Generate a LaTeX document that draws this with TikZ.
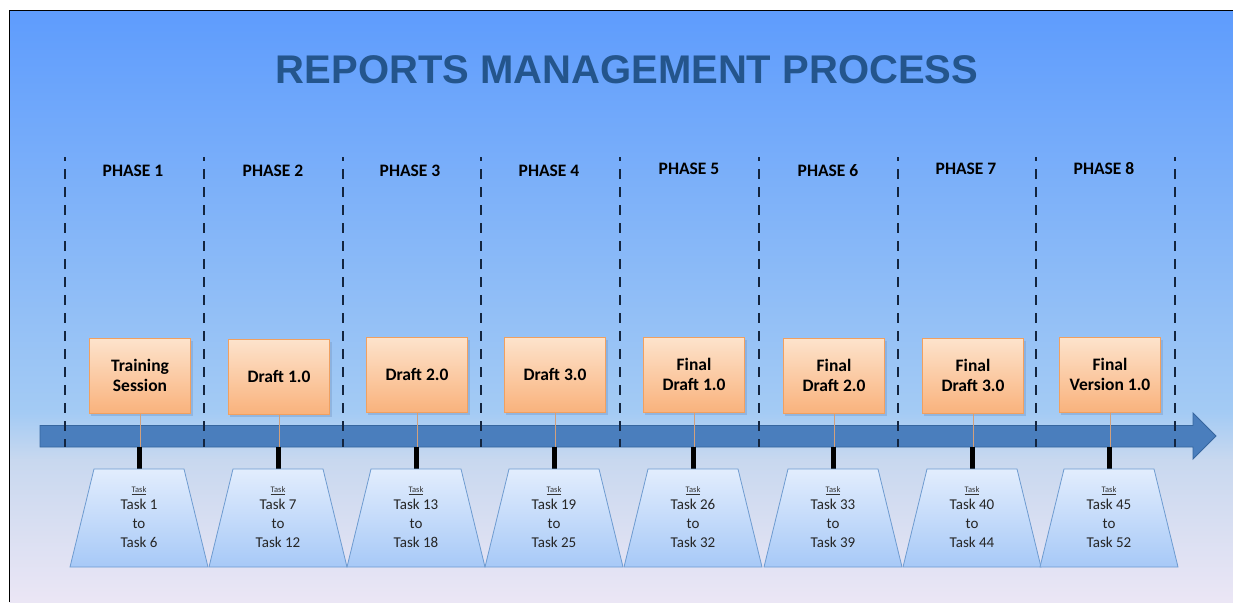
\documentclass[tikz,border=0pt]{standalone}
\usepackage{fontspec}
\setmainfont{Carlito}
\newfontfamily\titlefont{Liberation Sans}
\usetikzlibrary{calc}
\definecolor{bgtop}{HTML}{5E9CFD}
\definecolor{bgmid}{HTML}{A4CBF4}
\definecolor{bglow}{HTML}{C8D8EF}
\definecolor{bgbot}{HTML}{EBE6F5}
\definecolor{titleblue}{HTML}{24558C}
\definecolor{arrowfill}{HTML}{4A7EBD}
\definecolor{arrowdraw}{HTML}{36669F}
\definecolor{boxtop}{HTML}{FDE3CC}
\definecolor{boxbot}{HTML}{F9B27C}
\definecolor{boxdraw}{HTML}{F0A060}
\definecolor{traptop}{HTML}{E2EDFD}
\definecolor{trapbot}{HTML}{A7C9F7}
\definecolor{trapdraw}{HTML}{6E9BD0}
\definecolor{dashcol}{HTML}{13253F}
\definecolor{tan}{HTML}{D2A07C}
\definecolor{shadowcol}{HTML}{7A9CC8}
\tikzset{
  phasesep/.style={draw=dashcol, line width=2.8pt, dash pattern=on 10pt off 8pt, dash phase=6pt},
  phaselbl/.style={font=\fontsize{17.5}{20}\selectfont\bfseries, text=black},
  milestone/.style={draw=boxdraw, line width=0.8pt, top color=boxtop, bottom color=boxbot,
     minimum width=101pt, minimum height=75pt, inner sep=0pt, align=center,
     font=\fontsize{17.5}{20}\selectfont\bfseries},
  trap/.style={draw=trapdraw, line width=0.8pt, top color=traptop, bottom color=trapbot},
  tasktxt/.style={align=center, font=\fontsize{15}{19}\selectfont, text=black!85},
  stem/.style={draw=tan, line width=0.8pt},
  stub/.style={draw=black, line width=5pt},
}
\begin{document}
\begin{tikzpicture}[x=1pt,y=-1pt]
\useasboundingbox (0,0) rectangle (1233,602);
\fill[white] (0,0) rectangle (1233,602);
% background
\shade[top color=bgtop, bottom color=bgmid] (9.5,10.5) rectangle (1233,414);
\shade[top color=bgmid, bottom color=bglow] (9.5,413) rectangle (1233,460);
\shade[top color=bglow, bottom color=bgbot] (9.5,459) rectangle (1233,602);
\draw[black, line width=1.4pt] (9.5,602) -- (9.5,10.5) -- (1233,10.5);
% title
\node[font=\titlefont\fontsize{40}{46}\selectfont\bfseries, text=titleblue] (title) at (627,70) {REPORTS MANAGEMENT PROCESS};
% arrow
\draw[draw=arrowdraw, fill=arrowfill, line width=0.9pt]
  (40,425.5) -- (1193,425.5) -- (1193,413) -- (1216,436) -- (1193,459) -- (1193,447) -- (40,447) -- cycle;
% dashed separators
\foreach \x [count=\i] in {65,204,343,481,620,759,898,1036,1175} {
  \coordinate (st\i) at (\x,157);
  \coordinate (en\i) at (\x,447);
  \draw[phasesep] (st\i) -- (en\i);
}
% phases
\foreach \x/\y/\n in {133/171/1,273/171/2,410/171/3,549/171/4,689/169/5,828/171/6,966/169/7,1104/169/8} {
  \node[phaselbl] (ph\n) at (\x,\y) {PHASE \n};
}
% milestones and tasks
\foreach \c/\ytop/\lbl/\a/\b [count=\i] in {
  140/338/{Training\\Session}/1/6,
  279/339/{Draft 1.0}/7/12,
  417/337/{Draft 2.0}/13/18,
  555/337/{Draft 3.0}/19/25,
  694/337/{Final\\Draft 1.0}/26/32,
  834/338/{Final\\Draft 2.0}/33/39,
  973/338/{Final\\Draft 3.0}/40/44,
  1110/337/{Final\\Version 1.0}/45/52} {
  \fill[shadowcol, opacity=0.45] (\c-49,\ytop+3) rectangle (\c+52.5,\ytop+77.5);
  \node[milestone, anchor=north] (ms\i) at (\c,\ytop) {\lbl};
  \coordinate (ax\i) at (\c-1,447);
  \coordinate (tp\i) at (\c-1,469);
  \draw[stem] (ms\i.south) -- (ms\i.south |- ax\i);
  \draw[stub] (ax\i) -- (tp\i);
  \draw[trap] ($(tp\i)+(-45,0)$) -- ($(tp\i)+(45,0)$) -- ($(tp\i)+(69,98)$) -- ($(tp\i)+(-69,98)$) -- cycle;
  \node[font=\fontsize{8.5}{9}\selectfont, text=black!80] (tk\i) at ($(tp\i)+(0,22)$) {\underline{Task}};
  \node[tasktxt, anchor=north] (tt\i) at ($(tp\i)+(0,27)$) {Task \a\\to\\Task \b};
}
\end{tikzpicture}
\end{document}
